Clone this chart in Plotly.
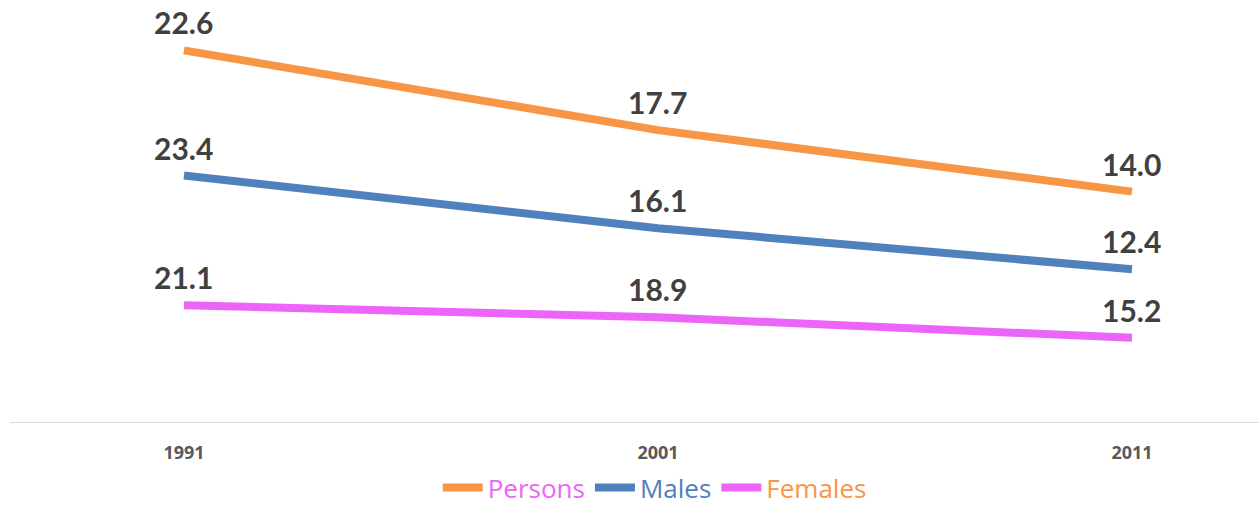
import numpy as np
import plotly.graph_objects as go

years = [1991, 2001, 2011]
persons = [22.6, 17.7, 14.0]
males = [23.4, 16.1, 12.4]
females = [21.1, 18.9, 15.2]
tick_labels = ["1991", "2001", "2011"]

c_orange = "#F79646"
c_blue = "#4F81BD"
c_pink = "#EA65F8"
label_color = "#404040"

fig = go.Figure()
# stacked: Females bottom, Males, Persons on top
series = [
    ("Females", females, c_pink, c_orange, 3),
    ("Males", males, c_blue, c_blue, 2),
    ("Persons", persons, c_orange, c_pink, 1),
]
cum = np.zeros(len(years))
annotations = []
for name, vals, lc, tc, rank in series:
    cum = cum + np.array(vals)
    fig.add_trace(go.Scatter(
        x=years, y=vals, stackgroup="one", fill="none", mode="lines",
        name=f"<span style='color:{tc}'>{name}</span>",
        line=dict(color=lc, width=8), legendrank=rank, hoverinfo="skip",
    ))
    for xv, yv, v in zip(years, cum, vals):
        annotations.append(dict(
            x=xv, y=float(yv), text=f"{v:.1f}", showarrow=False,
            yanchor="middle", xanchor="center", yshift=28,
            font=dict(family="Lato", size=30, color=label_color, weight="bold"),
        ))

fig.update_layout(
    width=1259, height=511,
    margin=dict(l=10, r=0, t=0, b=89, autoexpand=False),
    paper_bgcolor="white", plot_bgcolor="white",
    showlegend=True,
    legend=dict(orientation="h", x=0.52, xanchor="center", xref="container",
                y=0.0, yanchor="bottom", yref="container",
                bgcolor="rgba(0,0,0,0)",
                font=dict(family="Open Sans", size=26), itemwidth=40, tracegroupgap=0),
    annotations=annotations,
    xaxis=dict(range=[1987.33, 2013.68], tickvals=years, ticktext=tick_labels,
               showgrid=False, zeroline=False, showline=False,
               ticks="", ticklabelstandoff=18,
               tickfont=dict(family="Open Sans", size=18, color="#595959", weight="bold")),
    yaxis=dict(range=[0, 76.2], showgrid=False, zeroline=True, zerolinecolor="#D9D9D9",
               zerolinewidth=1, showticklabels=False, ticks=""),
)
fig.write_html("out.html")
